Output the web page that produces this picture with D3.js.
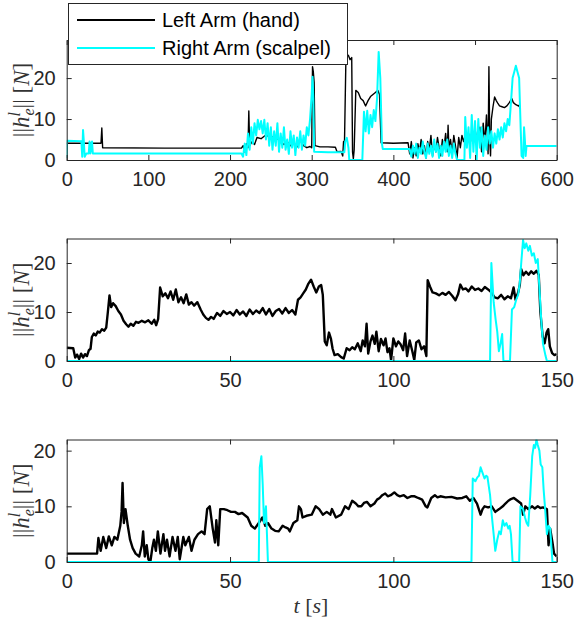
<!DOCTYPE html>
<html>
<head>
<meta charset="utf-8">
<script src="https://cdn.jsdelivr.net/npm/d3@7"></script>
<style>
  body { margin: 0; background: #fff; }
  svg { display: block; }
</style>
</head>
<body>
<div id="chart"></div>
<script>
// series as [t (s), force (N)] pairs
const left1 = [[0,4.1],[42,4.1],[43,7.8],[44,3.0],[120,2.9],[214,2.9],[216,3.5],[218,2.0],[220,4.0],[222,3.0],[223,12],[224,3.5],[227,4.5],[230,3.8],[233,5.5],[238,5.2],[243,6.0],[248,5.8],[253,5.6],[258,5.2],[262,4.5],[266,3.8],[270,4.5],[274,3.5],[278,4.2],[282,3.2],[286,4.8],[290,3.5],[294,3.0],[298,3.3],[300,3.0],[301,22.8],[302,21.5],[303,19],[304,3.5],[310,3.2],[320,3.2],[329,3.1],[331,2.0],[336,2.1],[338,1.0],[339,4.5],[340,2.5],[342,26],[345,25.5],[347,24.5],[349,25],[350,2.0],[351,0.3],[352,2.5],[354,17],[357,16.5],[360,15],[363,14.5],[366,13.2],[369,14.5],[372,15.5],[375,16],[378,16.5],[381,17],[383,16],[385,4.2],[400,4.1],[418,4.2],[420,1.5],[422,4.5],[424,0.5],[426,3.0],[428,1.0],[430,4.0],[432,2.0],[434,5.0],[436,1.5],[438,3.5],[440,0.5],[442,4.5],[444,2.5],[446,6.0],[448,1.0],[450,4.0],[452,2.0],[454,5.5],[456,3.0],[458,1.0],[460,5.0],[462,3.0],[464,6.5],[466,2.0],[467,8.5],[468,3.0],[470,5.0],[472,1.5],[474,6.0],[476,3.5],[478,0.5],[480,5.5],[482,3.0],[484,6.0],[486,4.5],[488,6.0],[490,5.0],[492,6.5],[494,4.0],[496,6.5],[498,5.0],[500,7.5],[502,5.0],[504,6.0],[506,8.0],[508,2.0],[510,9.0],[512,4.0],[514,11],[516,1.5],[517,22.8],[518,5.0],[519,1.0],[520,10],[522,13],[524,15.4],[526,14.5],[528,13.8],[530,13.2],[533,13],[536,12.8],[539,13.2],[542,14],[545,15],[547,14],[550,13.5],[553,13.2],[554,13.4],[555,12.5]];
const right1 = [[0,0.5],[0.5,4.7],[18,4.6],[19,0.8],[20,7.3],[21,4.5],[22,0.8],[24,1.6],[27,1.6],[28,4.5],[29,1.6],[31,4.5],[32,1.6],[214,1.6],[216,0.8],[218,4.0],[220,1.2],[222,6.5],[224,2.5],[226,8.0],[228,4.0],[230,9.0],[232,6.0],[234,9.8],[236,7.5],[238,9.5],[240,6.5],[242,9.8],[244,5.0],[246,9.0],[248,3.5],[250,8.0],[252,2.5],[254,7.0],[256,3.5],[258,9.0],[260,2.0],[262,6.5],[264,3.0],[266,8.0],[268,2.5],[270,5.0],[272,1.5],[274,7.0],[276,3.0],[278,6.0],[280,1.2],[282,5.5],[284,3.0],[286,7.0],[288,2.5],[290,6.0],[292,3.5],[294,8.0],[296,6.0],[298,10],[300,16],[301,20.3],[302,15],[303,2.0],[320,1.9],[340,1.9],[341,4.5],[343,5.4],[345,3.0],[346,0],[362,0],[364,11.8],[366,7.0],[368,12],[370,6.5],[372,11],[374,8.0],[376,12.2],[378,9.5],[380,15],[382,26.4],[384,20],[386,4.0],[387,2.7],[400,2.7],[420,2.7],[422,0.8],[424,3.5],[426,1.5],[428,4.0],[430,0.5],[432,3.0],[434,1.5],[436,4.5],[438,2.0],[440,0.5],[442,4.0],[444,1.5],[446,3.5],[448,0.8],[450,5.0],[452,2.0],[454,4.0],[456,0.5],[458,3.5],[460,1.0],[462,4.5],[464,2.0],[466,5.0],[468,1.0],[470,3.5],[472,0.5],[474,4.0],[476,1.5],[478,0],[487,0],[488,10.5],[490,3.0],[492,8.0],[494,0.5],[496,11],[498,2.0],[500,9.5],[502,0],[504,10],[506,3.0],[508,8.0],[510,1.0],[512,6.0],[514,2.5],[516,8.0],[518,4.0],[520,7.0],[522,3.0],[524,6.5],[526,4.0],[528,7.5],[530,5.0],[532,8.0],[534,5.5],[536,9.0],[538,7.0],[540,10],[542,8.5],[544,14],[546,20],[548,21.5],[550,23],[552,21.5],[554,20],[556,7.0],[557,1.0],[559,0.5],[560,8.0],[561,5],[562,1.0],[563,3.4],[600,3.4]];

const left2 = [[0,2.7],[2,2.6],[2.6,0.7],[3.2,1.3],[3.8,0.4],[4.4,1.5],[5,0.7],[5.6,1.4],[6.2,1.0],[6.8,2.2],[7.3,2.5],[7.7,4.9],[8.3,5.6],[8.9,5.2],[9.5,6.0],[10.1,5.8],[10.8,6.5],[11.5,6.2],[12.1,6.8],[12.6,10],[13.1,13.4],[13.6,11],[14.2,11.8],[15,11.2],[15.8,10.2],[16.6,9.5],[17.4,8.2],[18.2,7.5],[18.9,7.0],[19.6,7.6],[20.4,7.2],[21.2,8.0],[22,7.8],[23,8.2],[24,7.9],[25,8.3],[26,7.6],[26.8,8.4],[27.4,7.3],[28,8.6],[28.6,15.0],[29.4,13.2],[30.2,13.8],[31,12.8],[31.8,14.2],[32.6,12.5],[33.4,14.6],[34.2,12.0],[35,13.0],[35.8,11.8],[36.6,13.6],[37.4,11.5],[38.2,12.0],[39,11.3],[40,12.0],[41,10.5],[41.8,9.5],[42.6,8.8],[43.4,8.4],[44.2,9.0],[45,8.6],[46,9.8],[47,9.2],[48,10.2],[49,9.6],[50,10.0],[51,9.3],[52,10.4],[53,9.5],[54,10.1],[55,9.2],[56,10.5],[57,9.6],[58,10.3],[59,9.8],[60,10.8],[61,9.5],[62,10.6],[63,9.2],[64,10.2],[65,10.6],[66,9.7],[67,10.8],[68,9.8],[69,10.4],[70,9.5],[70.8,12.5],[71.6,13.0],[72.4,13.8],[73.2,14.6],[74,15.8],[74.8,16.6],[75.6,15.2],[76.4,14.0],[77.2,15.2],[77.9,15.5],[78.4,13.5],[79,4.0],[79.6,3.2],[80.3,5.8],[80.9,4.5],[81.4,2.5],[82,1.2],[83,1.4],[84,0.8],[84.8,0.5],[85.7,2.6],[86.6,2.2],[87.4,2.8],[88.2,2.4],[89.1,3.6],[90,2.0],[90.6,4.2],[91.3,3.0],[91.8,7.6],[92.3,1.5],[93,4.0],[93.6,5.2],[94.3,3.5],[94.8,6.0],[95.5,2.0],[96.2,4.5],[97,3.2],[97.6,4.6],[98.2,1.8],[98.8,2.6],[99.3,0.2],[100,4.6],[100.8,3.0],[101.5,4.0],[102.2,3.4],[103,2.2],[103.6,5.6],[104.2,1.0],[105,4.2],[105.8,2.0],[106.4,0.2],[107,3.8],[107.8,4.2],[108.6,2.4],[109.4,3.0],[110.1,1.0],[110.5,16.5],[111.2,15.2],[112,14.0],[113,13.8],[114,13.4],[115,13.9],[116,13.5],[117,14.1],[118,13.3],[119,12.4],[119.8,13.6],[120.5,15.6],[121.3,14.6],[122.2,14.8],[123,14.2],[124,15.2],[125,14.5],[126,14.8],[127,14.3],[128,15.1],[129,14.6],[130,14.0],[131,13.0],[132,12.8],[133,13.5],[134,12.6],[135,13.2],[136,12.8],[136.8,15.0],[137.4,12.5],[138.2,14.0],[138.7,15.5],[139.1,18.8],[139.8,17.5],[140.6,18.2],[141.4,17.6],[142.2,18.3],[143,17.8],[143.8,18.4],[144.5,17.6],[145,10],[145.7,5.0],[146.3,3.6],[146.9,5.8],[147.4,6.5],[147.9,3.0],[148.6,1.6],[149.3,1.2],[150,1.4]];
const right2 = [[0,0],[129.6,0],[130,20],[130.7,12],[131.3,8.5],[131.8,6],[132.3,2],[132.8,3.5],[133.3,5.5],[133.7,0],[135.7,0],[136.3,10.5],[137,11],[137.6,12.5],[138.2,13.5],[138.7,16],[139.2,20.5],[139.7,24.7],[140.2,23],[140.7,24],[141.3,22.5],[141.8,23.5],[142.4,21.5],[143,22],[143.6,20],[144.2,20.8],[144.7,15],[145.3,8],[145.8,3.5],[146.6,1],[147,0],[150,0]];

const left3 = [[0,1.5],[9.3,1.5],[9.7,4.3],[10.4,2.0],[11.2,4.5],[12.1,2.5],[12.9,4.6],[13.8,3.0],[14.6,4.5],[15.5,4.0],[16.4,6.5],[16.8,9],[17.1,14.2],[17.5,7.0],[18.0,9.5],[18.7,6.5],[19.4,4.0],[20.2,2.5],[21.1,1.5],[22.2,1.0],[23.0,3],[23.4,5.5],[23.9,1.0],[24.5,3.0],[25.0,0.5],[25.6,0],[26.2,2.5],[26.7,4.0],[27.3,2.0],[27.9,5.5],[28.7,1.5],[29.6,5.0],[30.1,2.0],[30.7,4.0],[31.5,1.0],[32.4,4.5],[33.3,2.0],[34.0,4.5],[34.6,0.5],[35.7,4.5],[36.3,3.0],[37.4,4.5],[38.2,2.0],[39.1,4.0],[40.2,5.0],[41.3,5.5],[42.2,5.0],[43.0,9.5],[43.8,10],[44.7,6.0],[45.4,3.5],[45.8,7.5],[46.4,3.0],[47.0,9.5],[48.1,9.5],[49.2,9.3],[50.3,9.0],[51.5,9.0],[52.6,8.6],[53.7,8.8],[55.4,8.0],[56.5,6.5],[57.6,6.0],[58.8,7.0],[59.9,8.0],[60.8,6.5],[61.6,7.0],[62.7,6.0],[63.8,5.6],[64.9,5.5],[66.1,6.5],[67.0,6.2],[67.8,6.0],[68.3,5.5],[69.4,7.0],[70.6,7.5],[71.1,10],[71.7,9.5],[72.2,8.0],[73.4,8.3],[75.0,8.5],[76.2,10],[77.3,9.5],[78.4,8.5],[79.6,9.0],[80.7,8.5],[81.2,9.5],[82.4,8.0],[84.0,8.5],[85.2,10],[86.3,9.5],[87.4,11],[88.5,10.5],[89.3,10],[90.2,10],[91.0,10.6],[91.9,10.8],[93.0,10],[94.2,10.5],[95.0,11.2],[95.8,11.5],[96.6,12],[97.5,12.3],[98.3,11.8],[99.2,12],[100.3,12.5],[101.2,12],[102.0,11.8],[103.2,12],[104.3,11.5],[105.4,11.8],[106.5,11.8],[107.6,11.5],[108.8,11.2],[109.9,10],[110.4,9.8],[111.6,11.5],[112.7,12],[113.5,11.6],[114.4,11.8],[116,11.6],[117.8,11.7],[119.5,11.4],[121.1,11.5],[122.3,11.8],[123.4,11],[124.5,11.5],[125.6,10.5],[126.7,8.5],[127.3,9.5],[127.9,10],[129.0,9.8],[130.1,10],[131.2,9],[132.4,9.5],[133.5,10],[134.3,10.5],[135.2,11],[136.0,11.3],[136.9,11.5],[138.0,11],[139.1,10.5],[139.7,8.5],[140.4,10],[141.3,9.5],[142.5,10],[143.3,9.6],[144.2,10],[145.0,9.7],[145.8,9.8],[147.0,9.5],[147.5,3.0],[148.0,6.0],[148.7,3.5],[149.2,1.5],[150,1.0]];
const right3 = [[0,0],[58.8,0],[59.1,17],[59.6,19],[60.0,14],[60.4,7],[61.0,10],[61.6,0],[123.9,0],[124.3,15],[125.1,14.5],[125.7,15.2],[126.2,15.5],[126.7,17],[127.3,16],[127.9,15],[128.4,15.5],[128.8,15.3],[129.6,12],[130.1,8.5],[130.7,5],[131.2,2],[131.8,4],[132.4,5.5],[132.9,5],[133.5,7.5],[134,6.5],[134.6,7],[135.2,6],[135.6,6.5],[136,5],[136.5,0],[138.5,0],[138.9,10],[139.7,9.5],[140.3,8],[140.8,7],[141.3,6.5],[141.9,12],[142.5,19],[143,21],[143.4,20.5],[143.8,22],[144.2,21],[144.7,20],[145.1,17.5],[145.6,17],[146,13],[146.4,10],[147,5],[147.5,6.5],[148,6],[148.7,0],[150,0]];

const xTicksLong = [0, 100, 200, 300, 400, 500, 600];
const xTicksShort = [0, 50, 100, 150];
const yTicks = [0, 10, 20];
const seriesNames = ["Left Arm (hand)", "Right Arm (scalpel)"];
const seriesColors = ["#000000", "#00ffff"];

const W = 576, H = 624;
const axisColor = "#262626";
const sans = "'Liberation Sans', Arial, Helvetica, sans-serif";
const serif = "'Liberation Serif', 'Times New Roman', serif";

const panels = [
  {top: 40, bottom: 160, xMax: 600, yMax: 29.3, xTicks: xTicksLong, left: left1, right: right1, lw: [1.4, 2]},
  {top: 238.5, bottom: 361, xMax: 150, yMax: 25, xTicks: xTicksShort, left: left2, right: right2, lw: [2.4, 2]},
  {top: 439.5, bottom: 562, xMax: 150, yMax: 22, xTicks: xTicksShort, left: left3, right: right3, lw: [2.4, 2]}
];
const x0 = 66.7, x1 = 556.7;

const svg = d3.select("#chart").append("svg")
  .attr("width", W)
  .attr("height", H);

panels.forEach((p, i) => {
  const x = d3.scaleLinear().domain([0, p.xMax]).range([x0, x1]);
  const y = d3.scaleLinear().domain([0, p.yMax]).range([p.bottom, p.top]);

  svg.append("clipPath").attr("id", "clip" + i)
    .append("rect")
    .attr("x", x0).attr("y", p.top)
    .attr("width", x1 - x0).attr("height", p.bottom - p.top);

  const line = d3.line().x(d => x(d[0])).y(d => y(d[1]));
  const g = svg.append("g").attr("clip-path", `url(#clip${i})`);
  [p.left, p.right].forEach((s, k) => {
    g.append("path")
      .datum(s)
      .attr("fill", "none")
      .attr("stroke", seriesColors[k])
      .attr("stroke-width", p.lw[k])
      .attr("stroke-linejoin", "round")
      .attr("d", line);
  });

  // axes: ticks pointing inward, mirrored on top/right
  const styleAxis = (sel) => {
    sel.selectAll("path, line").attr("stroke", axisColor);
    sel.selectAll("text").attr("fill", axisColor)
      .attr("font-family", sans).attr("font-size", 20);
  };
  svg.append("g")
    .attr("transform", `translate(0,${p.bottom})`)
    .call(d3.axisBottom(x).tickValues(p.xTicks).tickSizeInner(-5).tickSizeOuter(0).tickPadding(12))
    .call(styleAxis);
  svg.append("g")
    .attr("transform", `translate(0,${p.top})`)
    .call(d3.axisTop(x).tickValues(p.xTicks).tickSizeInner(-5).tickSizeOuter(0).tickFormat(""))
    .call(styleAxis);
  svg.append("g")
    .attr("transform", `translate(${x0},0)`)
    .call(d3.axisLeft(y).tickValues(yTicks).tickSizeInner(-5).tickSizeOuter(0).tickPadding(11))
    .call(styleAxis);
  svg.append("g")
    .attr("transform", `translate(${x1},0)`)
    .call(d3.axisRight(y).tickValues(yTicks).tickSizeInner(-5).tickSizeOuter(0).tickFormat(""))
    .call(styleAxis);

  // y label ||h_e^l|| [N]
  const cy = (p.top + p.bottom) / 2;
  const t = svg.append("text")
    .attr("transform", `translate(29,${cy}) rotate(-90)`)
    .attr("text-anchor", "middle")
    .attr("font-family", serif)
    .attr("font-size", 23)
    .attr("fill", "#333");
  t.append("tspan").text("||");
  t.append("tspan").attr("font-style", "italic").text("h");
  t.append("tspan").attr("font-style", "italic").attr("font-size", 16).attr("dy", -9).text("l");
  t.append("tspan").attr("font-style", "italic").attr("font-size", 16).attr("dx", -3.5).attr("dy", 14).text("e");
  t.append("tspan").attr("dy", -5).text("|| [");
  t.append("tspan").attr("font-style", "italic").text("N");
  t.append("tspan").text("]");
});

// x label t [s]
const xl = svg.append("text")
  .attr("x", 311).attr("y", 613)
  .attr("text-anchor", "middle")
  .attr("font-family", serif)
  .attr("font-size", 22)
  .attr("fill", "#333");
xl.append("tspan").attr("font-style", "italic").text("t");
xl.append("tspan").text(" [");
xl.append("tspan").attr("font-style", "italic").text("s");
xl.append("tspan").text("]");

// legend
const lg = svg.append("g");
lg.append("rect")
  .attr("x", 68.5).attr("y", 3.5)
  .attr("width", 279).attr("height", 61)
  .attr("fill", "#fff")
  .attr("stroke", axisColor);
seriesNames.forEach((name, k) => {
  const ly = 20 + k * 28;
  lg.append("line")
    .attr("x1", 77).attr("x2", 155)
    .attr("y1", ly).attr("y2", ly)
    .attr("stroke", seriesColors[k])
    .attr("stroke-width", 2);
  lg.append("text")
    .attr("x", 162).attr("y", ly + 7)
    .attr("font-family", sans)
    .attr("font-size", 20)
    .attr("fill", "#000")
    .text(name);
});
</script>
</body>
</html>
